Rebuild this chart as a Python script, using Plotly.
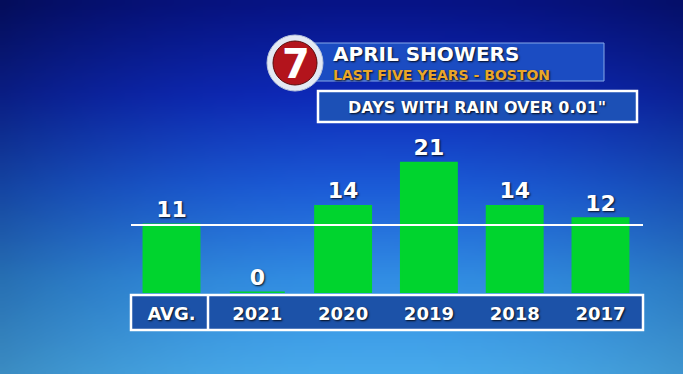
import zlib, struct, base64
import plotly.graph_objects as go

# ---- data ----
categories = ["AVG.", "2021", "2020", "2019", "2018", "2017"]
rain_days = [11, 0, 14, 21, 14, 12]
average_days = 11
title = "APRIL SHOWERS"
subtitle = "LAST FIVE YEARS - BOSTON"
box_title = "DAYS WITH RAIN OVER 0.01\""

W, H = 683, 374
def px(x): return x / W
def py(y): return 1 - y / H

# ---- background gradient (decoration) ----
def lerp(a, b, t): return a + (b - a) * t
stops = [(0.0, (7, 20, 135)), (0.25, (14, 42, 185)), (0.5, (28, 92, 216)),
         (0.75, (50, 142, 228)), (1.0, (72, 170, 236))]
def bg(u, v):
    for i in range(len(stops) - 1):
        t0, c0 = stops[i]; t1, c1 = stops[i + 1]
        if t0 <= v <= t1:
            t = (v - t0) / (t1 - t0)
            c = [lerp(c0[k], c1[k], t) for k in range(3)]
            break
    dx = (u - 0.55) / 0.55
    f = 1 - 0.32 * dx * dx * (1 - 0.45 * v)
    return [max(0, min(255, int(ch * f))) for ch in c]

def make_png(w, h):
    rows = []
    for y in range(h):
        row = bytearray([0])
        for x in range(w):
            row.extend(bg(x / (w - 1), y / (h - 1)))
        rows.append(bytes(row))
    raw = b"".join(rows)
    def chunk(t, d):
        return struct.pack(">I", len(d)) + t + d + struct.pack(">I", zlib.crc32(t + d) & 0xffffffff)
    png = (b"\x89PNG\r\n\x1a\n" + chunk(b"IHDR", struct.pack(">IIBBBBB", w, h, 8, 2, 0, 0, 0))
           + chunk(b"IDAT", zlib.compress(raw)) + chunk(b"IEND", b""))
    return "data:image/png;base64," + base64.b64encode(png).decode()

GREEN = "#00d42e"
FONT = "DejaVu Sans"
SHADOW = "1px 1px 2px rgba(0,0,0,0.85)"

fig = go.Figure()
fig.add_trace(go.Bar(
    x=categories, y=rain_days,
    marker=dict(color=GREEN, line=dict(color=GREEN, width=3)),
    text=[str(v) for v in rain_days], textposition="outside",
    textfont=dict(family=FONT, size=22, color="white", weight="bold", shadow=SHADOW),
    cliponaxis=False, hoverinfo="skip",
))

shapes = [
    # label box
    dict(type="rect", xref="paper", yref="paper", x0=px(131), x1=px(643), y0=py(295), y1=py(330),
         fillcolor="#1c52a8", line=dict(color="white", width=2.5), layer="below"),
    dict(type="line", xref="paper", yref="paper", x0=px(208), x1=px(208), y0=py(295), y1=py(330),
         line=dict(color="white", width=2.5), layer="below"),
    # average line
    dict(type="line", xref="paper", yref="y", x0=px(131), x1=px(643), y0=average_days, y1=average_days,
         line=dict(color="white", width=2), layer="above"),
    # title box
    dict(type="rect", xref="paper", yref="paper", x0=px(305), x1=px(604), y0=py(43), y1=py(81),
         fillcolor="#1b4cc2", line=dict(color="#86a8e8", width=1), layer="below"),
    # subtitle box
    dict(type="rect", xref="paper", yref="paper", x0=px(318), x1=px(637), y0=py(91), y1=py(122),
         fillcolor="#1c50b6", line=dict(color="white", width=2.5), layer="below"),
    # logo circles
    dict(type="circle", xref="paper", yref="paper", xsizemode="pixel", ysizemode="pixel",
         xanchor=px(295), yanchor=py(63), x0=-28, x1=28, y0=-28, y1=28,
         fillcolor="#e3e9f4", line=dict(color="#b8c4dc", width=1), layer="below"),
    dict(type="circle", xref="paper", yref="paper", xsizemode="pixel", ysizemode="pixel",
         xanchor=px(295), yanchor=py(63), x0=-22, x1=22, y0=-22, y1=22,
         fillcolor="#b3141c", line=dict(color="#5a0a0a", width=1), layer="below"),
]

annotations = [
    dict(text="<b>7</b>", x=px(296), y=py(64), xref="paper", yref="paper", showarrow=False,
         xanchor="center", yanchor="middle", font=dict(family=FONT, size=40, color="white")),
    dict(text="<b>" + title + "</b>", x=px(332), y=py(67.5), xref="paper", yref="paper", showarrow=False,
         xanchor="left", yanchor="bottom", borderpad=0,
         font=dict(family=FONT, size=20, color="white", shadow=SHADOW)),
    dict(text="<b>" + subtitle + "</b>", x=px(332), y=py(65.5), xref="paper", yref="paper", showarrow=False,
         xanchor="left", yanchor="top", borderpad=0,
         font=dict(family=FONT, size=14, color="#e9a62a", shadow=SHADOW)),
    dict(text="<b>" + box_title + "</b>", x=px(477), y=py(107), xref="paper", yref="paper", showarrow=False,
         xanchor="center", yanchor="middle", font=dict(family=FONT, size=16, color="white", shadow=SHADOW)),
]

fig.update_layout(
    width=W, height=H, margin=dict(l=0, r=0, t=0, b=0),
    paper_bgcolor="#1a50c8", plot_bgcolor="rgba(0,0,0,0)",
    showlegend=False, bargap=0.36,
    images=[dict(source=make_png(96, 54), xref="paper", yref="paper", x=0, y=1, sizex=1, sizey=1,
                 xanchor="left", yanchor="top", sizing="stretch", layer="below")],
    shapes=shapes, annotations=annotations,
    xaxis=dict(domain=[0.1883, 0.942], type="category", showgrid=False, zeroline=False, showline=False,
               ticks="", ticklabelstandoff=8,
               tickfont=dict(family=FONT, size=18, color="white", weight="bold", shadow=SHADOW)),
    yaxis=dict(domain=[0.2166, 0.6297], range=[0, 25], visible=False, showgrid=False, zeroline=False),
)

fig.write_html("out.html", config={"displayModeBar": False},
               post_script="document.body.style.margin='0px';")
